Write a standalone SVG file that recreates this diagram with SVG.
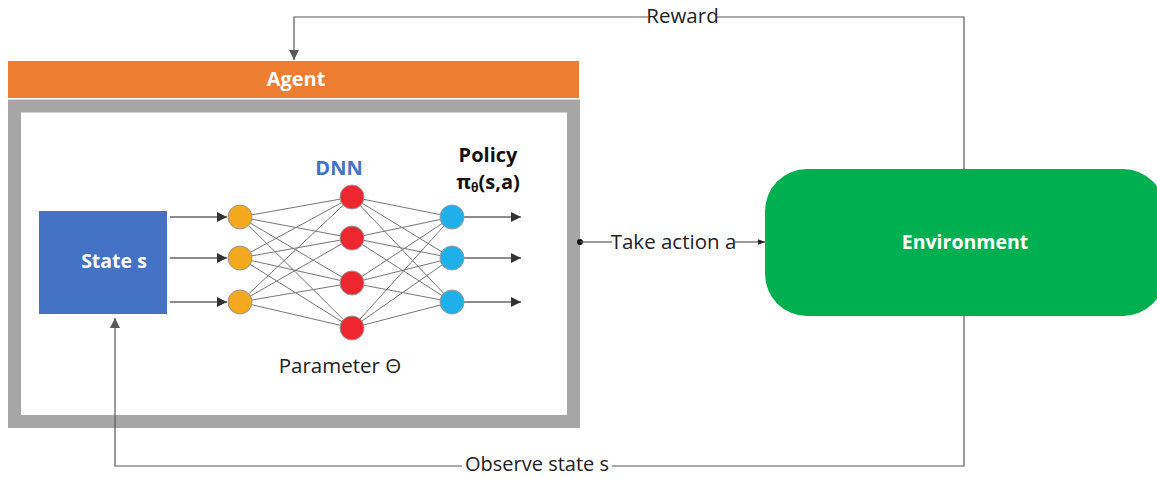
<svg xmlns="http://www.w3.org/2000/svg" width="1157" height="477" viewBox="0 0 1157 477">
<style>
.lbl{font-family:"Open Sans","Noto Sans",sans-serif;font-size:20.5px;fill:#222}
.b{font-family:"Open Sans","Noto Sans",sans-serif;font-weight:bold;font-size:19.5px;fill:#fff}
.conn{stroke:#595959;stroke-width:1.2;fill:none}
.net{stroke:#777;stroke-width:1}
.io{stroke:#666;stroke-width:1.5}
.h{font-family:"Open Sans","Noto Sans",sans-serif;font-weight:bold;font-size:20px}
</style>
<defs>
<marker id="ah" viewBox="0 0 10 10" refX="10" refY="5" markerWidth="10" markerHeight="10" markerUnits="userSpaceOnUse" orient="auto"><path d="M0,0 L10,5 L0,10 z" fill="#595959"/></marker>
<marker id="ah2" viewBox="0 0 10 10" refX="10" refY="5" markerWidth="10" markerHeight="10" markerUnits="userSpaceOnUse" orient="auto"><path d="M0,0 L10,5 L0,10 z" fill="#333"/></marker>
<marker id="ahs" viewBox="0 0 10 10" refX="10" refY="5" markerWidth="7" markerHeight="7" markerUnits="userSpaceOnUse" orient="auto"><path d="M0,1 L10,5 L0,9 z" fill="#222"/></marker>
</defs>
<rect width="1157" height="477" fill="#fff"/>
<g id="agent">
<rect x="8" y="61" width="571" height="37" fill="#ED7D31"/>
<text class="b" x="296" y="86" text-anchor="middle" style="font-size:20px">Agent</text>
<rect x="14.5" y="106" width="559" height="315.5" fill="#fff" stroke="#A6A6A6" stroke-width="13"/>
</g>
<g id="state">
<rect x="39" y="211" width="128" height="103" fill="#4472C4"/>
<text class="b" x="114" y="268" text-anchor="middle">State s</text>
</g>
<g id="dnn">
<g class="net">
<path d="M240,217 L352,197 M240,217 L352,238 M240,217 L352,283 M240,217 L352,328 M240,258 L352,197 M240,258 L352,238 M240,258 L352,283 M240,258 L352,328 M240,302 L352,197 M240,302 L352,238 M240,302 L352,283 M240,302 L352,328"/>
<path d="M452,217 L352,197 M452,217 L352,238 M452,217 L352,283 M452,217 L352,328 M452,258 L352,197 M452,258 L352,238 M452,258 L352,283 M452,258 L352,328 M452,302 L352,197 M452,302 L352,238 M452,302 L352,283 M452,302 L352,328"/>
</g>
<g class="io">
<line x1="170" y1="217" x2="227" y2="217" marker-end="url(#ah2)"/>
<line x1="170" y1="258" x2="227" y2="258" marker-end="url(#ah2)"/>
<line x1="170" y1="302" x2="227" y2="302" marker-end="url(#ah2)"/>
<line x1="464" y1="217" x2="521" y2="217" marker-end="url(#ah2)"/>
<line x1="464" y1="258" x2="521" y2="258" marker-end="url(#ah2)"/>
<line x1="464" y1="302" x2="521" y2="302" marker-end="url(#ah2)"/>
</g>
<g stroke="#999" stroke-width="1">
<circle cx="240" cy="217" r="12" fill="#F4A81D"/>
<circle cx="240" cy="258" r="12" fill="#F4A81D"/>
<circle cx="240" cy="302" r="12" fill="#F4A81D"/>
<circle cx="352" cy="197" r="12" fill="#EE2630"/>
<circle cx="352" cy="238" r="12" fill="#EE2630"/>
<circle cx="352" cy="283" r="12" fill="#EE2630"/>
<circle cx="352" cy="328" r="12" fill="#EE2630"/>
<circle cx="452" cy="217" r="12" fill="#1FB0EA"/>
<circle cx="452" cy="258" r="12" fill="#1FB0EA"/>
<circle cx="452" cy="302" r="12" fill="#1FB0EA"/>
</g>
<text class="h" x="339" y="175" text-anchor="middle" fill="#4472C4">DNN</text>
<text class="h" x="488" y="162" text-anchor="middle" fill="#111">Policy</text>
<text class="h" x="488" y="189" text-anchor="middle" fill="#111">π<tspan font-size="12" dy="3">θ</tspan><tspan dy="-3">(s,a)</tspan></text>
<text class="lbl" x="340" y="373" text-anchor="middle">Parameter Θ</text>
</g>
<g id="environment">
<rect x="765" y="169" width="400" height="147" rx="42" fill="#00B050"/>
<text class="b" x="965" y="249" text-anchor="middle">Environment</text>
</g>
<g id="connectors">
<path class="conn" d="M964,169 V17 H717 M648,17 H294 V60" marker-end="url(#ah)"/>
<text class="lbl" x="682.5" y="23" text-anchor="middle">Reward</text>
<path class="conn" d="M964,316 V466 H612 M462,466 H115 V318" marker-end="url(#ah)"/>
<text class="lbl" x="537" y="471" text-anchor="middle" style="font-size:20px">Observe state s</text>
<circle cx="580" cy="242" r="3" fill="#111"/>
<line class="conn" x1="580" y1="242" x2="612" y2="242" stroke="#222"/>
<text class="lbl" x="673.5" y="249" text-anchor="middle">Take action a</text>
<line class="conn" x1="735" y1="242" x2="765" y2="242" stroke="#222" marker-end="url(#ahs)"/>
</g>
</svg>
